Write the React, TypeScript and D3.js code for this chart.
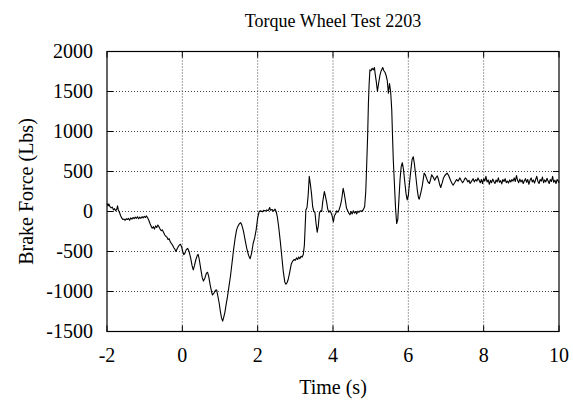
import React from "react";
import * as d3 from "d3";

// Brake force trace, seconds vs. pounds
const timeSec: number[] = [
  -2.0, -1.97, -1.95, -1.92, -1.89, -1.86, -1.83, -1.8, -1.77, -1.74, -1.72, -1.7, -1.67, -1.64, -1.61,
  -1.58, -1.55, -1.52, -1.49, -1.46, -1.43, -1.4, -1.37, -1.34, -1.31, -1.28, -1.25, -1.22, -1.19, -1.16,
  -1.13, -1.1, -1.07, -1.04, -1.01, -0.98, -0.95, -0.92, -0.89, -0.86, -0.83, -0.8, -0.77, -0.74, -0.71,
  -0.68, -0.65, -0.62, -0.59, -0.56, -0.53, -0.5, -0.47, -0.44, -0.41, -0.38, -0.35, -0.32, -0.29, -0.26,
  -0.23, -0.2, -0.17, -0.14, -0.11, -0.08, -0.05, -0.02, 0.01, 0.04, 0.07, 0.1, 0.14, 0.18, 0.22,
  0.26, 0.29, 0.32, 0.36, 0.4, 0.42, 0.45, 0.49, 0.53, 0.56, 0.6, 0.64, 0.67, 0.7, 0.74,
  0.78, 0.8, 0.84, 0.88, 0.91, 0.94, 0.98, 1.01, 1.04, 1.07, 1.1, 1.13, 1.16, 1.2, 1.24,
  1.28, 1.32, 1.36, 1.4, 1.44, 1.48, 1.52, 1.55, 1.58, 1.62, 1.66, 1.71, 1.76, 1.8, 1.84,
  1.88, 1.92, 1.96, 2.0, 2.04, 2.08, 2.12, 2.16, 2.2, 2.24, 2.28, 2.32, 2.34, 2.38, 2.42,
  2.46, 2.49, 2.52, 2.56, 2.6, 2.64, 2.68, 2.72, 2.75, 2.78, 2.81, 2.85, 2.89, 2.93, 2.97,
  3.0, 3.03, 3.06, 3.09, 3.12, 3.15, 3.18, 3.21, 3.24, 3.26, 3.28, 3.31, 3.34, 3.37, 3.4,
  3.43, 3.46, 3.49, 3.52, 3.55, 3.58, 3.61, 3.64, 3.67, 3.7, 3.73, 3.77, 3.8, 3.83, 3.86,
  3.89, 3.92, 3.95, 3.98, 4.01, 4.04, 4.07, 4.1, 4.13, 4.16, 4.2, 4.23, 4.27, 4.3, 4.33,
  4.36, 4.39, 4.42, 4.45, 4.48, 4.51, 4.54, 4.57, 4.6, 4.63, 4.66, 4.69, 4.72, 4.76, 4.8,
  4.84, 4.87, 4.89, 4.92, 4.94, 4.96, 4.98, 5.01, 5.04, 5.07, 5.1, 5.12, 5.15, 5.18, 5.21,
  5.25, 5.28, 5.32, 5.35, 5.38, 5.41, 5.44, 5.47, 5.5, 5.53, 5.56, 5.58, 5.6, 5.63, 5.66,
  5.69, 5.72, 5.75, 5.78, 5.81, 5.84, 5.87, 5.91, 5.94, 5.97, 6.0, 6.03, 6.07, 6.1, 6.13,
  6.16, 6.2, 6.24, 6.27, 6.29, 6.33, 6.37, 6.42, 6.45, 6.48, 6.52, 6.56, 6.59, 6.62, 6.66,
  6.7, 6.73, 6.77, 6.8, 6.83, 6.86, 6.9, 6.93, 6.97, 7.03, 7.07, 7.12, 7.16, 7.19, 7.23,
  7.28, 7.32, 7.37, 7.4, 7.44, 7.47, 7.51, 7.55, 7.58, 7.61, 7.64, 7.68, 7.72, 7.75, 7.79,
  7.82, 7.85, 7.88, 7.91, 7.94, 7.97, 8.0, 8.03, 8.06, 8.09, 8.12, 8.15, 8.18, 8.21, 8.24,
  8.27, 8.3, 8.33, 8.36, 8.39, 8.42, 8.45, 8.48, 8.51, 8.54, 8.57, 8.6, 8.63, 8.66, 8.69,
  8.72, 8.75, 8.78, 8.81, 8.84, 8.87, 8.9, 8.93, 8.96, 8.99, 9.02, 9.05, 9.08, 9.11, 9.14,
  9.17, 9.2, 9.23, 9.26, 9.29, 9.32, 9.35, 9.38, 9.41, 9.44, 9.47, 9.5, 9.53, 9.56, 9.59,
  9.62, 9.65, 9.68, 9.71, 9.74, 9.77, 9.8, 9.83, 9.86, 9.89, 9.92, 9.95, 9.98, 10.0,
];

const brakeForceLbs: number[] = [
  100, 70, 95, 60, 45, 55, 20, 35, 10, 30, 70, 20, -10, -50, -80,
  -100, -95, -110, -90, -100, -85, -110, -80, -95, -75, -90, -70, -85, -65, -90,
  -70, -85, -65, -80, -60, -75, -55, -80, -110, -150, -180, -210, -190, -220, -180,
  -200, -170, -190, -220, -240, -230, -260, -290, -310, -320, -350, -340, -380, -400, -420,
  -450, -470, -500, -470, -440, -420, -410, -440, -500, -540, -520, -480, -460, -500, -580,
  -680, -730, -680, -600, -545, -535, -600, -720, -830, -870, -830, -770, -760, -810, -920,
  -1010, -1044, -1020, -985, -980, -1050, -1150, -1250, -1330, -1370, -1320, -1260, -1170, -1060, -930,
  -800, -640, -480, -340, -230, -180, -150, -140, -170, -240, -340, -460, -550, -590, -520,
  -400, -330, -230, -80, 0, 10, -5, 15, 5, 20, 10, 50, 15, 25, 5,
  30, 0, -60, -200, -370, -560, -750, -880, -910, -890, -850, -760, -660, -620, -600,
  -610, -580, -600, -570, -590, -560, -570, -540, -420, -200, 20, 50, 200, 440, 340,
  220, 60, 0, -10, -150, -260, -180, -20, 10, 0, 130, 250, 190, 120, 30,
  -10, 10, -20, -60, -130, -50, -30, 10, -10, 20, 80, 150, 290, 220, 130,
  40, 10, -20, -40, 0, -30, 10, -20, 0, -30, 5, -10, 10, 0, 20,
  60, 250, 520, 950, 1350, 1600, 1770, 1760, 1790, 1770, 1800, 1720, 1620, 1500, 1600,
  1710, 1760, 1800, 1760, 1740, 1700, 1640, 1480, 1600, 1500, 1270, 950, 650, 350, 50,
  -150, -100, 150, 400, 560, 610, 530, 350, 220, 145, 200, 350, 530, 650, 685,
  600, 435, 260, 170, 155, 230, 320, 480, 460, 420, 370, 350, 400, 460, 430,
  390, 420, 445, 400, 340, 300, 360, 415, 450, 480, 450, 390, 350, 330, 360,
  400, 380, 420, 390, 360, 380, 420, 400, 370, 390, 350, 380, 410, 370, 400,
  380, 420, 390, 360, 400, 350, 410, 380, 440, 370, 395, 340, 390, 360, 405,
  375, 350, 395, 370, 420, 365, 385, 345, 400, 375, 410, 360, 380, 355, 395,
  370, 400, 380, 420, 375, 450, 390, 360, 405, 370, 395, 350, 385, 410, 365,
  400, 340, 390, 420, 370, 395, 355, 400, 440, 375, 350, 400, 380, 430, 360,
  395, 370, 415, 380, 350, 400, 375, 440, 365, 390, 350, 400, 380, 360,
];

const xTickValues: number[] = [-2, 0, 2, 4, 6, 8, 10];
const yTickValues: number[] = [-1500, -1000, -500, 0, 500, 1000, 1500, 2000];

const chartTitle = "Torque Wheel Test 2203";
const xAxisLabel = "Time (s)";
const yAxisLabel = "Brake Force (Lbs)";

const W = 573;
const H = 402;
const plot = { left: 107, right: 559, top: 51.5, bottom: 331.5 };
const serif = "'Liberation Serif', 'Times New Roman', Times, serif";

export default function App() {
  const x = d3.scaleLinear().domain([-2, 10]).range([plot.left, plot.right]);
  const y = d3.scaleLinear().domain([-1500, 2000]).range([plot.bottom, plot.top]);

  const points: [number, number][] = timeSec.map((t, i) => [t, brakeForceLbs[i]]);
  const line = d3
    .line<[number, number]>()
    .x((d) => x(d[0]))
    .y((d) => y(d[1]));

  const tickLen = 6;
  const innerX = xTickValues.filter((v) => v !== -2 && v !== 10);
  const innerY = yTickValues.filter((v) => v !== -1500 && v !== 2000);

  return (
    <svg
      width={W}
      height={H}
      style={{ position: "absolute", left: 0, top: 0, background: "#fff" }}
      fontFamily={serif}
    >
      <rect x={0} y={0} width={W} height={H} fill="#fff" />

      {/* dotted grid */}
      <g stroke="#444" strokeWidth={1} strokeDasharray="1,2">
        {innerX.map((v) => (
          <line key={`gx${v}`} x1={x(v)} x2={x(v)} y1={plot.top} y2={plot.bottom} />
        ))}
        {innerY.map((v) => (
          <line key={`gy${v}`} x1={plot.left} x2={plot.right} y1={y(v)} y2={y(v)} />
        ))}
      </g>

      {/* inward ticks on all four sides */}
      <g stroke="#000" strokeWidth={1}>
        {xTickValues.map((v) => (
          <g key={`tx${v}`}>
            <line x1={x(v)} x2={x(v)} y1={plot.bottom} y2={plot.bottom - tickLen} />
            <line x1={x(v)} x2={x(v)} y1={plot.top} y2={plot.top + tickLen} />
          </g>
        ))}
        {yTickValues.map((v) => (
          <g key={`ty${v}`}>
            <line x1={plot.left} x2={plot.left + tickLen} y1={y(v)} y2={y(v)} />
            <line x1={plot.right} x2={plot.right - tickLen} y1={y(v)} y2={y(v)} />
          </g>
        ))}
      </g>

      {/* data trace */}
      <path d={line(points) ?? ""} fill="none" stroke="#000" strokeWidth={1.1} strokeLinejoin="round" />

      {/* frame */}
      <rect
        x={plot.left}
        y={plot.top}
        width={plot.right - plot.left}
        height={plot.bottom - plot.top}
        fill="none"
        stroke="#000"
        strokeWidth={1.2}
      />

      {/* tick labels */}
      <g fontSize={20} fill="#000">
        {xTickValues.map((v) => (
          <text key={`lx${v}`} x={x(v)} y={362} textAnchor="middle">
            {v}
          </text>
        ))}
        {yTickValues.map((v) => (
          <text key={`ly${v}`} x={93} y={y(v)} dy="0.34em" textAnchor="end">
            {v}
          </text>
        ))}
      </g>

      {/* titles */}
      <text x={(plot.left + plot.right) / 2} y={27} textAnchor="middle" fontSize={18}>
        {chartTitle}
      </text>
      <text x={(plot.left + plot.right) / 2} y={394} textAnchor="middle" fontSize={20}>
        {xAxisLabel}
      </text>
      <text
        transform={`translate(33, ${(plot.top + plot.bottom) / 2}) rotate(-90)`}
        textAnchor="middle"
        fontSize={20}
      >
        {yAxisLabel}
      </text>
    </svg>
  );
}
